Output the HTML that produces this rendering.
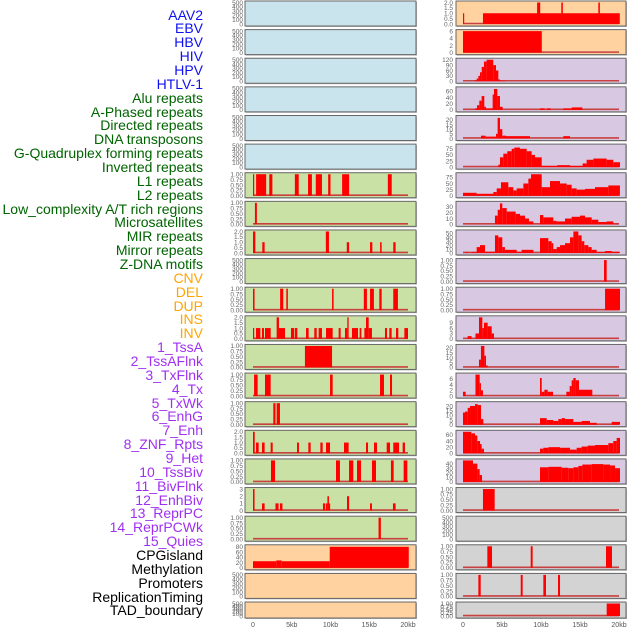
<!DOCTYPE html>
<html><head><meta charset="utf-8">
<style>
html,body{margin:0;padding:0;background:#fff;}
#wrap{position:relative;width:630px;height:630px;overflow:hidden;}
.lab{position:absolute;right:427px;font-family:"Liberation Sans",sans-serif;font-size:14px;line-height:14px;white-space:nowrap;}
svg{position:absolute;left:0;top:0;}
</style></head><body>
<div id="wrap">
<div id="labels"></div>
<svg id="svg" width="630" height="630"></svg>
</div>
<script>
const labelNames = ["AAV2","EBV","HBV","HIV","HPV","HTLV-1","Alu repeats","A-Phased repeats","Directed repeats","DNA transposons","G-Quadruplex forming repeats","Inverted repeats","L1 repeats","L2 repeats","Low_complexity A/T rich regions","Microsatellites","MIR repeats","Mirror repeats","Z-DNA motifs","CNV","DEL","DUP","INS","INV","1_TssA","2_TssAFlnk","3_TxFlnk","4_Tx","5_TxWk","6_EnhG","7_Enh","8_ZNF_Rpts","9_Het","10_TssBiv","11_BivFlnk","12_EnhBiv","13_ReprPC","14_ReprPCWk","15_Quies","CPGisland","Methylation","Promoters","ReplicationTiming","TAD_boundary"];
const labelGroups = [6,13,5,15,5];
const groupColors = ["#1010f0","#006400","#ffa500","#a030f0","#000000"];

const xTicks = [0,5,10,15,20];
const xTickLabels = ["0","5kb","10kb","15kb","20kb"];

// left column data: [startKb, endKb, value]
const L6 = [[0,0.15,1],[0.4,1.7,1],[2.1,2.5,1],[5.4,5.9,1],[7.1,7.6,1],[8.1,8.9,1],[9.7,10.0,1],[11.5,12.4,1],[17.4,17.9,1]];
const L7 = [[0.25,0.5,1]];
const L8 = [[0,0.3,2],[1.2,1.5,1],[9.4,9.8,2],[12.1,12.4,1],[15.1,15.4,1],[16.4,16.6,1],[18.1,18.4,1]];
const L10 = [[0,0.2,1],[3.5,3.9,1],[4.3,4.5,1],[10.2,10.4,1],[14.3,14.7,1],[15.1,15.6,1],[16.3,16.6,1],[18.1,18.7,1]];
const L11 = [[0,0.09,1],[0.39,0.95,1],[1.16,1.42,1],[1.55,2.28,1],[3.05,3.35,2],[3.35,4.13,1],[4.9,5.33,1],[5.42,5.72,1],[6.84,7.18,1],[7.91,8.22,1],[8.47,8.9,1],[9.42,10.28,1],[11.05,11.31,1],[11.87,12.17,1],[12.17,12.34,2],[12.77,13.55,1],[13.76,13.98,1],[14.37,14.58,1],[14.58,14.93,2],[14.93,15.35,1],[17.03,17.29,1],[17.59,17.89,1],[18.45,18.75,1],[19.53,20.0,1]];
const L12 = [[6.7,10.2,1]];
const L13 = [[0.14,0.6,1],[1.55,2.28,1],[9.94,10.28,1],[16.39,16.9,1],[17.68,17.94,1]];
const L14 = [[2.62,2.9,1],[3.05,3.48,1]];
const L15 = [[0,0.22,2],[0.39,0.73,1],[1.16,1.5,1],[2.28,2.54,1],[5.68,5.93,1],[7.14,7.44,1],[8.69,8.99,1],[9.42,9.94,1],[11.74,12.34,1],[14.58,14.84,1],[15.61,16,1],[17.25,17.68,1],[18.1,18.84,1],[19.31,19.61,1]];
const L16 = [[2.32,2.84,1],[10.71,11.22,1],[12.39,12.94,1],[13.42,13.94,1],[15.35,15.87,1],[17.8,18.15,1],[19.44,19.91,1]];
const L17 = [[0,0.2,3],[1.16,1.5,1],[2.9,3.3,1],[3.48,3.8,1],[9.03,9.3,1],[9.4,9.6,1],[9.6,9.8,2],[9.8,9.94,1],[12.13,12.4,2],[15.1,15.35,1],[18.06,18.4,1]];
const L18 = [[16.2,16.5,1]];
const L19 = [[0,3,25],[3,3.7,28],[3.7,9.9,25],[9.9,20.1,80]];

// right column data
const R0 = [[0,0.1,1],[2.56,20.1,1],[9.5,9.9,2],[12.6,12.8,2],[17.35,17.55,2]];
const R1 = [[0,10.1,6]];
const R2 = [[1.54,1.75,5],[1.75,1.97,15],[1.97,2.18,30],[2.18,2.4,50],[2.4,2.69,80],[2.69,3.03,110],[3.03,3.88,120],[3.88,4.23,90],[4.23,4.53,60],[4.53,4.74,10],[4.74,5.38,3]];
const R3 = [[1.54,1.8,5],[1.8,2.09,15],[2.09,2.39,30],[2.39,2.73,45],[2.73,2.95,10],[2.95,3.8,5],[3.8,3.97,50],[3.97,4.4,68],[4.4,4.74,45],[4.74,5.08,10],[9.87,10.47,5],[10.73,11.24,5],[12.86,13.93,5],[13.93,15.3,8]];
const R4 = [[2.31,2.9,3],[2.9,4.23,2],[4.23,4.44,5],[4.44,4.74,22],[4.74,5.04,10],[5.04,5.51,3],[5.51,8.59,2.5],[12.86,13.72,2.5]];
const R5 = [[4.53,4.74,10],[4.74,5.17,40],[5.17,5.68,55],[5.68,6.24,65],[6.24,6.58,75],[6.58,7.31,80],[7.31,8.16,75],[8.16,8.8,65],[8.8,9.23,50],[9.23,10.09,40],[10.09,12.09,5],[12.09,13.72,8],[13.72,15.34,5],[15.34,15.85,15],[15.85,16.71,30],[16.71,18.42,35],[18.42,19.27,30],[19.27,20.13,20]];
const R6 = [[0,1.75,12],[1.75,3.89,8],[3.89,4.32,15],[4.32,4.87,30],[4.87,5.81,55],[5.81,6.45,35],[6.45,6.88,22],[6.88,7.74,30],[7.74,8.38,50],[8.38,8.72,70],[8.72,10.09,88],[10.09,11.15,35],[11.15,12.44,60],[12.44,13.29,50],[13.29,13.93,45],[13.93,14.57,30],[14.57,15.64,25],[15.64,16.92,28],[16.92,18.63,35],[18.63,20.12,42]];
const R7 = [[4.1,4.45,15],[4.45,4.74,25],[4.74,5.04,36],[5.04,5.6,28],[5.6,6.15,22],[6.15,6.75,22],[6.75,7.31,18],[7.31,7.95,15],[7.95,8.46,10],[8.46,9.02,5],[9.87,10.3,16],[10.3,11.58,12],[11.58,12.01,6],[12.01,13.08,5],[13.08,13.93,10],[13.93,15,13],[15,15.64,15],[15.64,16.5,12],[16.5,17.35,8],[17.35,18.42,4],[18.42,19.27,5],[19.27,19.91,1]];
const R8 = [[0.3,0.7,2],[1.1,1.75,2],[1.75,2.18,15],[2.18,2.82,20],[2.82,4.1,3],[4.1,4.53,45],[4.53,5.04,40],[5.04,5.38,15],[5.38,6.88,8],[6.88,7.52,3],[7.52,9.02,8],[9.87,10.94,38],[10.94,11.37,30],[11.37,11.58,25],[11.58,12.01,10],[12.01,12.44,15],[12.44,13.08,20],[13.08,13.72,25],[13.72,14.15,40],[14.15,14.79,55],[14.79,15.21,45],[15.21,15.55,30],[15.55,16.07,20],[16.07,16.5,15],[16.5,17.14,8],[17.14,18.21,2],[18.21,19.06,5],[19.06,20.12,3]];
const R9 = [[18.08,18.42,1]];
const R10 = [[18.21,20.13,1]];
const R11 = [[0.6,1.1,1.5],[1.6,2.05,3],[2.05,2.48,12],[2.48,2.69,6],[2.69,3.16,9],[3.16,3.68,7],[3.68,3.97,3]];
const R12 = [[2.05,2.3,8],[2.3,2.74,22],[2.74,2.95,12],[2.95,3.16,2]];
const R13 = [[0,0.34,1.5],[1.6,2.14,7.5],[2.14,2.3,4.5],[2.3,2.56,2],[9.87,10.09,6.3],[10.09,10.43,1.5],[10.43,10.86,2.2],[10.86,11.54,1.5],[13.25,13.68,1.5],[13.68,13.93,3.5],[13.93,14.15,5.5],[14.15,14.45,6.3],[14.45,14.87,5.5],[14.87,16.58,2.2]];
const R14 = [[0,0.26,13],[0.26,0.6,14],[0.6,0.9,18],[0.9,1.54,20],[1.54,1.88,22],[1.88,2.31,21],[2.31,2.61,6],[9.87,10.73,7],[10.73,11.58,5],[11.58,12.22,4],[12.22,12.65,6],[12.65,13.08,7],[13.08,14.15,6],[14.15,15.21,3],[15.21,16.28,4],[16.28,17.14,2],[19.06,20.13,3]];
const R15 = [[0,1.07,70],[1.07,1.54,65],[1.54,1.84,58],[1.84,2.18,40],[2.18,2.39,30],[2.39,2.69,15],[9.87,10.3,15],[10.3,10.94,18],[10.94,12.44,20],[12.44,13.72,18],[13.72,14.57,12],[14.57,15.21,18],[15.21,15.98,22],[15.98,16.92,25],[16.92,18.63,27],[18.63,19.27,33],[19.27,19.7,40],[19.7,20.13,50]];
const R16 = [[0,1.28,47],[1.28,1.84,40],[1.84,2.14,28],[2.14,2.44,15],[9.87,10.94,32],[10.94,12.65,33],[12.65,13.5,31],[13.5,14.15,30],[14.15,14.79,32],[14.79,15.3,35],[15.3,16.5,38],[16.5,18,39],[18,18.85,38],[18.85,19.49,36],[19.49,20.13,30]];
const R17 = [[2.56,4.06,1]];
const R19 = [[3.12,3.72,1],[8.68,8.93,1],[18.33,19.1,1]];
const R20 = [[1.97,2.27,1],[7.4,7.65,1],[10.3,10.64,1],[12.18,12.44,1]];
const R21 = [[18.42,20.13,1]];

// tick sets
const T500 = [0,100,200,300,400,500];
const T1 = [0,0.25,0.5,0.75,1];
const T2 = [0,0.5,1,1.5,2];
const T3 = [0,1,2,3];
const T80 = [0,20,40,60,80];

const COL = {blue:"#c9e4ec",green:"#c9e1a4",orange:"#ffd29f",purple:"#d8c8e2",gray:"#d3d3d3"};
// [row, bg, ticks, ymax, data, decimals]
const leftPanels = [
 [0,"blue",T500,500,null,0],[1,"blue",T500,500,null,0],[2,"blue",T500,500,null,0],[3,"blue",T500,500,null,0],[4,"blue",T500,500,null,0],[5,"blue",T500,500,null,0],
 [6,"green",T1,1,L6,2],[7,"green",T1,1,L7,2],[8,"green",T2,2,L8,1],[9,"green",T500,500,null,0],[10,"green",T1,1,L10,2],[11,"green",T2,2,L11,1],
 [12,"green",T1,1,L12,2],[13,"green",T1,1,L13,2],[14,"green",T1,1,L14,2],[15,"green",T2,2,L15,1],[16,"green",T1,1,L16,2],[17,"green",T3,3,L17,0],[18,"green",T1,1,L18,2],
 [19,"orange",T80,82,L19,0],[20,"orange",T500,500,null,0],[21,"orange",T500,500,null,0]
];
const rightPanels = [
 [0,"orange",T2,2,R0,1],[1,"orange",[0,2,4,6],6,R1,0],[2,"purple",[0,30,60,90,120],120,R2,0],[3,"purple",[0,20,40,60],70,R3,0],
 [4,"purple",[0,5,10,15,20],23,R4,0],[5,"purple",[0,25,50,75],88,R5,0],[6,"purple",[0,25,50,75],88,R6,0],[7,"purple",[0,10,20,30],37,R7,0],
 [8,"purple",[0,10,20,30,40,50],55,R8,0],[9,"purple",T1,1,R9,2],[10,"purple",T1,1,R10,2],[11,"purple",[0,3,6,9],12,R11,0],
 [12,"purple",[0,5,10,15,20],22,R12,0],[13,"purple",[0,2,4,6],7.5,R13,0],[14,"purple",[0,5,10,15,20],23,R14,0],[15,"purple",[0,20,40,60],70,R15,0],
 [16,"purple",[0,10,20,30,40],47,R16,0],[17,"gray",T1,1,R17,2],[18,"gray",T500,500,null,0],[19,"gray",T1,1,R19,2],[20,"gray",T1,1,R20,2],[21,"gray",T1,1,R21,2]
];

const NS = "http://www.w3.org/2000/svg";
const svg = document.getElementById("svg");
function mk(tag, attrs, parent){const e=document.createElementNS(NS,tag);for(const k in attrs)e.setAttribute(k,attrs[k]);(parent||svg).appendChild(e);return e;}

// labels
const labDiv = document.getElementById("labels");
let li=0;
labelGroups.forEach((n,g)=>{for(let j=0;j<n;j++){
  const d=document.createElement("div");
  d.className="lab";
  d.style.top=(15+li*13.86-7.5)+"px";
  d.style.color=groupColors[g];
  d.textContent=labelNames[li];
  
  
  labDiv.appendChild(d);li++;}});

const cols = [{x0:245,x1:416,k0:253,k1:408,tx:243,panels:leftPanels,name:"left"},{x0:456,x1:626,k0:463,k1:619,tx:453,panels:rightPanels,name:"right"}];

cols.forEach(c=>{
  const xs = kb => c.k0 + kb/20*(c.k1-c.k0);
  c.panels.forEach(p=>{
    const [row,bg,ticks,ymax,data,dec]=p;
    const T = 1+row*28.62, H = row===21?16:25;
    const yb = T+H-2, ys = v => yb - v/ymax*(H-3.5);
    const g = mk("g",{});
    
    
    const shadow = mk("rect",{x:c.x0+1,y:T+1,width:c.x1-c.x0,height:H,fill:"#bbb"},g);
    
    
    const r = mk("rect",{x:c.x0,y:T,width:c.x1-c.x0,height:H,fill:COL[bg],stroke:"#666","stroke-width":1},g);
    
    
    ticks.forEach(t=>{
      const tt = mk("text",{x:c.tx,y:ys(Math.min(t,ymax))+2.3,"text-anchor":"end","font-family":"Liberation Sans, sans-serif","font-size":6.5,fill:"#666"},g);
      tt.textContent = t.toFixed(dec);
      
      
    });
    if(data){
      const bl = mk("line",{x1:xs(0),x2:xs(20),y1:yb-0.5,y2:yb-0.5,stroke:"#c84040","stroke-width":1.6},g);
      
      
      data.forEach(d=>{
        const x=xs(d[0]), w=Math.max(xs(d[1])-x,1.2), y=ys(d[2]);
        const b = mk("rect",{x:x,y:y,width:w,height:yb-y,fill:"#ff0000"},g);
        
        
      });
    }
  });
  xTicks.forEach((t,i)=>{
    const tt = mk("text",{x:xs(t),y:627,"text-anchor":"middle","font-family":"Liberation Sans, sans-serif","font-size":7,fill:"#555"});
    tt.textContent = xTickLabels[i];
    
    
  });
});
</script>
</body></html>
